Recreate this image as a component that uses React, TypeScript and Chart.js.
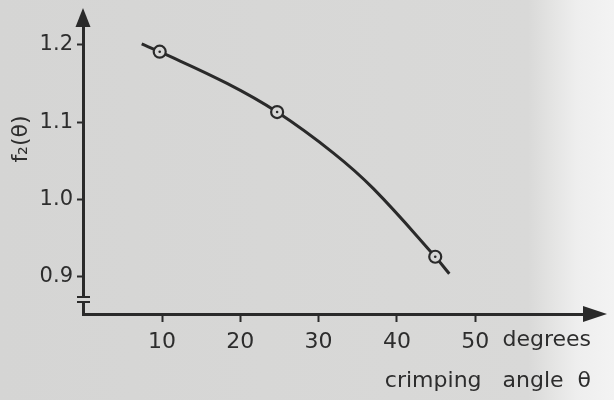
import { useEffect, useRef } from "react";
import { Chart, registerables } from "chart.js";

Chart.register(...registerables);

// ---- data ----
const xTickValues = [10, 20, 30, 40, 50];
const yTickValues = [0.9, 1.0, 1.1, 1.2];
const pointAngles = [9.7, 24.7, 44.9];
const pointValues = [1.191, 1.113, 0.926];
const curveAngles = [7.4, 9.7, 18.3, 24.7, 31.9, 37.0, 44.9, 46.7];
const curveValues = [1.201, 1.191, 1.15, 1.113, 1.06, 1.014, 0.926, 0.904];

const INK = "#2a2a2a";
const TXT = "#2d2d2d";
const BG = "#d7d7d6";
const FONT = "'DejaVu Sans', sans-serif";

const decor = {
  id: "decor",
  beforeDraw(chart: any) {
    const { ctx, width, height } = chart;
    const g = ctx.createLinearGradient(0, 0, width, 0);
    g.addColorStop(0, "#d5d5d4");
    g.addColorStop(0.86, "#d9d9d8");
    g.addColorStop(0.9, "#e4e4e3");
    g.addColorStop(0.94, "#eeeeee");
    g.addColorStop(1, "#f3f3f3");
    ctx.save();
    ctx.fillStyle = g;
    ctx.fillRect(0, 0, width, height);
    ctx.restore();
  },
  afterDraw(chart: any) {
    const { ctx } = chart;
    const { left, top, right, bottom } = chart.chartArea;
    ctx.save();
    ctx.strokeStyle = INK;
    ctx.fillStyle = INK;
    ctx.lineWidth = 3;
    // y arrow
    ctx.beginPath();
    ctx.moveTo(left, top - 12);
    ctx.lineTo(left - 7.5, top + 7);
    ctx.lineTo(left + 7.5, top + 7);
    ctx.closePath();
    ctx.fill();
    // x arrow
    ctx.beginPath();
    ctx.moveTo(right - 2, bottom);
    ctx.lineTo(right + 4, bottom);
    ctx.stroke();
    ctx.beginPath();
    ctx.moveTo(right + 16, bottom);
    ctx.lineTo(right - 8, bottom - 8);
    ctx.lineTo(right - 8, bottom + 8);
    ctx.closePath();
    ctx.fill();
    // axis break
    ctx.fillStyle = BG;
    ctx.fillRect(left - 3, bottom - 17, 6, 5);
    ctx.lineWidth = 2;
    ctx.beginPath();
    ctx.moveTo(left - 6, bottom - 17);
    ctx.lineTo(left + 7, bottom - 17);
    ctx.moveTo(left - 6, bottom - 12);
    ctx.lineTo(left + 7, bottom - 12);
    ctx.stroke();
    ctx.restore();
  },
};

export default function App() {
  const ref = useRef<HTMLCanvasElement | null>(null);

  useEffect(() => {
    document.body.style.margin = "0";
    const canvas = ref.current;
    if (!canvas) return;
    const chart = new Chart(canvas, {
      type: "scatter",
      data: {
        datasets: [
          {
            label: "curve",
            data: curveAngles.map((x, i) => ({ x, y: curveValues[i] })),
            showLine: true,
            borderColor: INK,
            borderWidth: 3,
            pointRadius: 0,
            tension: 0.4,
            order: 3,
          },
          {
            label: "measured",
            data: pointAngles.map((x, i) => ({ x, y: pointValues[i] })),
            pointStyle: "circle",
            pointRadius: 6,
            borderWidth: 2.2,
            borderColor: INK,
            backgroundColor: BG,
            order: 2,
          },
          {
            label: "centres",
            data: pointAngles.map((x, i) => ({ x, y: pointValues[i] })),
            pointStyle: "circle",
            pointRadius: 1.3,
            borderWidth: 0,
            backgroundColor: INK,
            order: 1,
          },
        ],
      },
      options: {
        responsive: false,
        animation: false,
        events: [],
        layout: { padding: { left: 0, right: 23, top: 20, bottom: 0 } },
        plugins: { legend: { display: false }, tooltip: { enabled: false } },
        scales: {
          x: {
            type: "linear",
            position: "bottom",
            min: -0.1,
            max: 64.8,
            afterBuildTicks: (s: any) => {
              s.ticks = xTickValues.map((v) => ({ value: v }));
            },
            afterFit: (s: any) => {
              s.height = 50;
            },
            ticks: {
              color: TXT,
              font: { family: FONT, size: 22 },
              padding: 7,
              maxRotation: 0,
              autoSkip: false,
            },
            grid: {
              display: true,
              drawOnChartArea: false,
              tickLength: 8,
              tickWidth: 2,
              tickColor: INK,
            },
            border: { display: true, color: INK, width: 3 },
            title: {
              display: true,
              text: "degrees",
              align: "end",
              color: TXT,
              font: { family: FONT, size: 22 },
              padding: { top: 0, bottom: 11 },
            },
          },
          x2: {
            type: "linear",
            position: "bottom",
            min: 0,
            max: 1,
            afterFit: (s: any) => {
              s.height = 36;
            },
            ticks: { display: false },
            grid: { display: false },
            border: { display: false },
            title: {
              display: true,
              text: "crimping   angle  θ",
              align: "end",
              color: TXT,
              font: { family: FONT, size: 22 },
              padding: { top: 0, bottom: 6 },
            },
          },
          y: {
            type: "linear",
            position: "left",
            min: 0.852,
            max: 1.232,
            afterBuildTicks: (s: any) => {
              s.ticks = yTickValues.map((v) => ({ value: v }));
            },
            afterFit: (s: any) => {
              s.width = 83;
            },
            ticks: {
              color: TXT,
              font: { family: FONT, size: 21 },
              padding: 4,
              callback: (v: any) => Number(v).toFixed(1),
            },
            grid: {
              display: true,
              drawOnChartArea: false,
              tickLength: 6,
              tickWidth: 2,
              tickColor: INK,
            },
            border: { display: true, color: INK, width: 3 },
            title: {
              display: true,
              text: "        f₂(θ)",
              color: TXT,
              font: { family: FONT, size: 22 },
              padding: { top: 8, bottom: 0 },
            },
          },
        },
      },
      plugins: [decor],
    } as any);
    return () => chart.destroy();
  }, []);

  return (
    <div style={{ width: 614, height: 400 }}>
      <canvas ref={ref} width={614} height={400} style={{ display: "block" }} />
    </div>
  );
}
